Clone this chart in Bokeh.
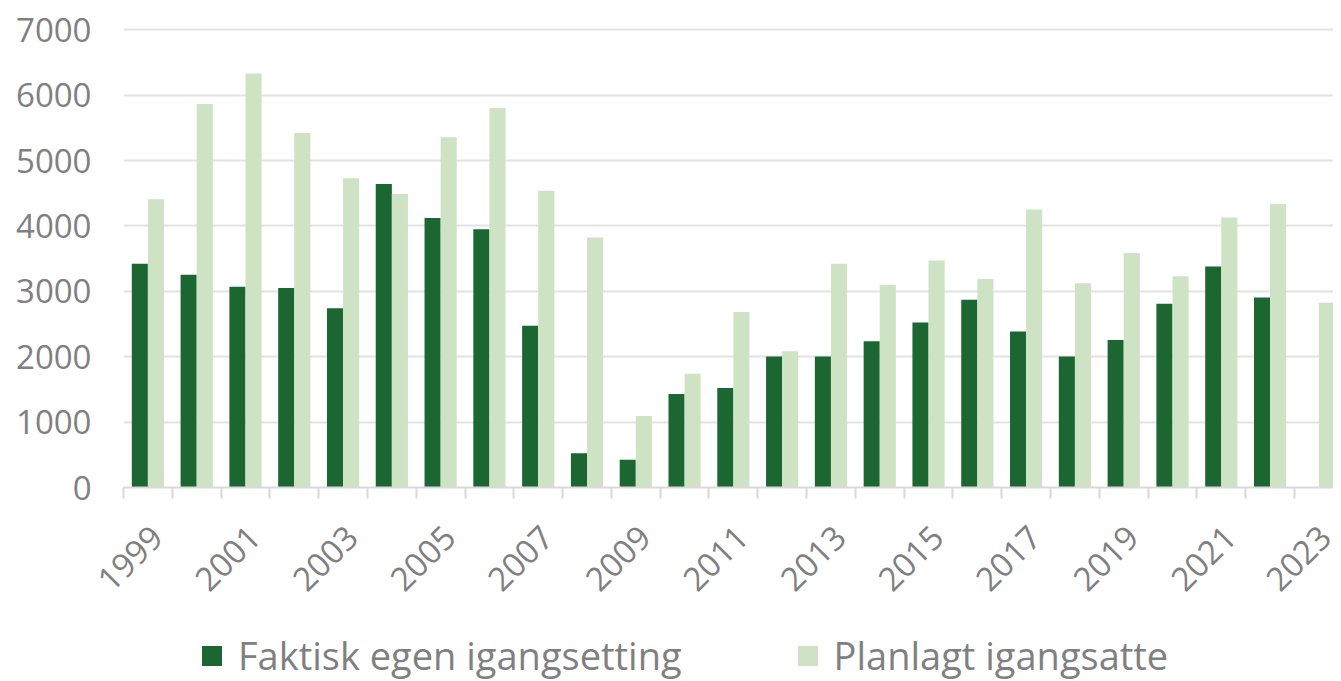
import math
from bokeh.plotting import figure
from bokeh.layouts import column
from bokeh.models import (Range1d, FixedTicker, Legend, LegendItem, ColumnDataSource,
                          CustomJSTickFormatter)
from bokeh.transform import dodge
from bokeh.embed import file_html
from bokeh.resources import INLINE

years = list(range(1999, 2024))
faktisk = [3420, 3255, 3070, 3050, 2740, 4640, 4120, 3950, 2475, 525, 425, 1430, 1520,
           2005, 2005, 2235, 2525, 2870, 2385, 2005, 2255, 2810, 3380, 2905, float("nan")]
planlagt = [4410, 5865, 6330, 5420, 4730, 4490, 5355, 5805, 4540, 3825, 1095, 1740, 2685,
            2085, 3420, 3100, 3470, 3190, 4250, 3125, 3585, 3230, 4130, 4335, 2825]
tick_years = years[::2]
y_ticks = list(range(0, 8000, 1000))
series_labels = ["Faktisk egen igangsetting", "Planlagt igangsatte"]

DARK = "#1c6632"
LIGHT = "#cde3c4"
TEXT = "#808080"
FONT = "Open Sans"
LABEL_SHIFT = 0.18  # rotated labels sit slightly right of the category centre

src = ColumnDataSource(dict(year=years, faktisk=faktisk, planlagt=planlagt))

p = figure(width=1333, height=612, output_backend="svg", toolbar_location=None,
           x_range=Range1d(1998.5, 2023.3), y_range=Range1d(0, 7050),
           min_border_left=123, min_border_right=0, min_border_top=26, min_border_bottom=125)
p.outline_line_color = None
p.background_fill_color = "white"

r1 = p.vbar(x=dodge("year", -0.165, range=p.x_range), top="faktisk", width=0.33,
            source=src, fill_color=DARK, line_color=None)
r2 = p.vbar(x=dodge("year", 0.165, range=p.x_range), top="planlagt", width=0.33,
            source=src, fill_color=LIGHT, line_color=None)

# x axis
xa = p.xaxis[0]
xa.ticker = FixedTicker(ticks=[y + LABEL_SHIFT for y in tick_years],
                        minor_ticks=[y - 0.5 for y in years] + [years[-1] + 0.5])
xa.formatter = CustomJSTickFormatter(code="return Math.round(tick).toFixed(0);")
xa.major_tick_line_color = None
xa.major_tick_out = 0
xa.major_tick_in = 0
xa.minor_tick_line_color = "#d9d9d9"
xa.minor_tick_line_width = 2
xa.minor_tick_out = 11
xa.minor_tick_in = 0
xa.axis_line_color = "#d9d9d9"
xa.axis_line_width = 2
xa.major_label_orientation = math.pi / 4
xa.major_label_standoff = 33
xa.major_label_text_font = FONT
xa.major_label_text_font_size = "33px"
xa.major_label_text_color = TEXT

# y axis
ya = p.yaxis[0]
ya.ticker = FixedTicker(ticks=y_ticks)
ya.axis_line_color = None
ya.major_tick_line_color = None
ya.minor_tick_line_color = None
ya.major_tick_out = 0
ya.major_tick_in = 0
ya.major_label_standoff = 32
ya.major_label_text_font = FONT
ya.major_label_text_font_size = "33px"
ya.major_label_text_color = TEXT

p.xgrid.grid_line_color = None
p.ygrid.grid_line_color = "#e3e3e3"
p.ygrid.grid_line_width = 2

# legend strip (its key glyphs use the same data, outside the strip's ranges)
p2 = figure(width=1333, height=69, output_backend="svg", toolbar_location=None,
            x_axis_location=None, y_axis_location=None,
            x_range=Range1d(0, 1), y_range=Range1d(0, 1),
            min_border_left=0, min_border_right=0, min_border_top=0, min_border_bottom=0)
p2.outline_line_color = None
p2.xgrid.grid_line_color = None
p2.ygrid.grid_line_color = None
k1 = p2.vbar(x="year", top="faktisk", width=0.33, source=src,
             fill_color=DARK, line_color=None)
k2 = p2.vbar(x="year", top="planlagt", width=0.33, source=src,
             fill_color=LIGHT, line_color=None)

legend = Legend(items=[LegendItem(label=series_labels[0], renderers=[k1]),
                       LegendItem(label=series_labels[1], renderers=[k2])],
                location=(76, 0), orientation="horizontal",
                glyph_width=25, glyph_height=25, label_standoff=14, spacing=113,
                padding=0, margin=0, border_line_color=None, background_fill_alpha=0,
                label_text_font=FONT, label_text_font_size="38px", label_text_color=TEXT)
p2.add_layout(legend, "center")

open("out.html", "w").write(file_html(column(p, p2, spacing=0), INLINE))
